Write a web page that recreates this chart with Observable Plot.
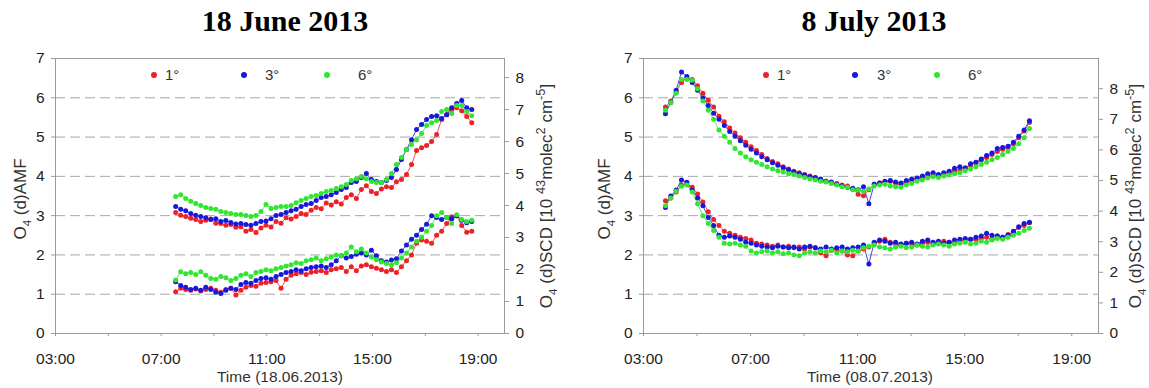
<!DOCTYPE html>
<html>
<head>
<meta charset="utf-8">
<script src="https://cdn.jsdelivr.net/npm/d3@7"></script>
<script src="https://cdn.jsdelivr.net/npm/@observablehq/plot@0.6"></script>
<style>
  body { margin: 0; background: #fff; }
  #wrap { position: relative; width: 1149px; height: 388px; overflow: hidden; font-family: "Liberation Sans", Arial, sans-serif; }
  .panel { position: absolute; top: 0; }
  .title { position: absolute; top: 7px; line-height: 28px; font-family: "Liberation Serif", "Times New Roman", serif; font-weight: bold; font-size: 30px; color: #000; transform: translateX(-50%); white-space: nowrap; }
  .ylab { position: absolute; font-size: 17px; color: #333; white-space: nowrap; line-height: 20px; transform: translate(-50%, -50%) rotate(-90deg); }
  .xlab { position: absolute; font-size: 15.5px; color: #333; white-space: nowrap; line-height: 18px; transform: translate(-50%, -50%); }
  .ylab sub { font-size: 0.68em; }
  .ylab sup { font-size: 0.75em; }
  .leg { position: absolute; font-size: 15px; color: #333; line-height: 16px; transform: translateY(-50%); }
  .legdot { position: absolute; width: 6px; height: 6px; border-radius: 50%; transform: translate(-50%, -50%); }
</style>
</head>
<body>
<div id="wrap"></div>
<script>
// ---------- data ----------
const angles = ["1°", "3°", "6°"];
const colors = ["#ec2228", "#1818dc", "#30e630"];
const xTicks = [3, 5, 7, 9, 11, 13, 15, 17, 19];
const xLabelTicks = [3, 7, 11, 15, 19];
const yLeftTicks = [0, 1, 2, 3, 4, 5, 6, 7];
const yRightTicks = [0, 1, 2, 3, 4, 5, 6, 7, 8];
const gridLevels = [1, 2, 3, 4, 5, 6];

// 18 June 2013 — time in decimal hours
const juneTimes = [7.55,7.74,7.93,8.12,8.31,8.50,8.69,8.88,9.07,9.26,
  9.45,9.64,9.83,10.02,10.21,10.40,10.59,10.78,10.97,11.16,
  11.35,11.54,11.73,11.92,12.11,12.30,12.49,12.68,12.87,13.06,
  13.25,13.44,13.63,13.82,14.01,14.20,14.39,14.58,14.77,14.96,
  15.15,15.34,15.53,15.72,15.91,16.10,16.29,16.48,16.67,16.86,
  17.05,17.24,17.43,17.62,17.81,18.00,18.19,18.38,18.57,18.76];
// O4 dSCD [10^43 molec^2 cm^-5] (right axis)
const juneScdRed = [3.78,3.70,3.66,3.60,3.56,3.50,3.54,3.58,3.45,3.44,
  3.38,3.41,3.32,3.34,3.20,3.25,3.16,3.30,3.38,3.33,
  3.50,3.45,3.62,3.58,3.66,3.75,3.72,3.85,3.94,3.90,
  4.08,4.02,4.12,4.05,4.25,4.34,4.22,4.50,4.62,4.44,
  4.38,4.52,4.59,4.56,4.74,4.81,4.97,5.28,5.72,5.81,
  5.88,6.00,6.22,6.69,6.84,7.00,7.06,6.96,6.78,6.59];
const juneScdBlue = [3.97,3.88,3.84,3.75,3.70,3.66,3.62,3.56,3.59,3.50,
  3.53,3.47,3.42,3.44,3.41,3.38,3.44,3.50,3.52,3.59,
  3.69,3.72,3.78,3.84,3.88,3.97,4.03,4.06,4.16,4.25,
  4.28,4.34,4.41,4.50,4.56,4.72,4.75,4.88,5.00,4.81,
  4.75,4.72,4.78,4.88,5.13,5.44,5.75,6.06,6.38,6.53,
  6.69,6.78,6.81,6.72,6.84,7.06,7.19,7.28,7.06,7.00];
const juneScdGreen = [4.28,4.34,4.22,4.13,4.06,4.00,3.94,3.91,3.88,3.81,
  3.78,3.75,3.72,3.72,3.69,3.66,3.69,3.81,4.03,3.91,
  3.94,3.97,3.97,4.00,4.09,4.16,4.22,4.28,4.31,4.38,
  4.44,4.47,4.53,4.59,4.66,4.78,4.84,4.91,4.84,4.75,
  4.72,4.72,4.81,5.00,5.28,5.50,5.75,5.91,6.06,6.25,
  6.50,6.59,6.66,6.94,7.00,6.88,7.13,7.13,6.94,6.81];
// O4 dAMF (left axis)
const juneAmfRed = [1.06,1.15,1.12,1.10,1.13,1.08,1.12,1.15,1.10,1.05,
  1.12,1.15,0.98,1.10,1.18,1.22,1.20,1.28,1.30,1.32,
  1.35,1.15,1.38,1.48,1.52,1.55,1.50,1.56,1.58,1.60,
  1.55,1.62,1.65,1.68,1.58,1.70,1.60,1.72,1.75,1.70,
  1.66,1.62,1.58,1.62,1.55,1.70,1.85,2.00,2.30,2.38,
  2.35,2.30,2.50,2.60,2.80,2.97,3.00,2.75,2.58,2.60];
const juneAmfBlue = [1.32,1.22,1.18,1.12,1.15,1.10,1.18,1.12,1.05,1.02,
  1.10,1.15,1.12,1.25,1.30,1.28,1.35,1.40,1.42,1.38,
  1.45,1.50,1.55,1.58,1.62,1.60,1.65,1.68,1.70,1.72,
  1.68,1.75,1.85,1.98,1.92,1.96,2.02,2.05,2.00,2.12,
  1.98,1.85,1.82,1.87,1.90,2.10,2.25,2.40,2.50,2.65,
  2.78,3.00,2.95,2.90,2.95,2.92,3.00,2.88,2.82,2.85];
const juneAmfGreen = [1.36,1.57,1.52,1.55,1.50,1.57,1.48,1.40,1.38,1.45,
  1.42,1.35,1.40,1.48,1.52,1.45,1.55,1.58,1.62,1.60,
  1.65,1.68,1.72,1.75,1.80,1.78,1.85,1.88,1.92,1.85,
  1.90,1.95,2.00,1.98,2.05,2.20,2.08,2.15,2.05,1.95,
  1.88,1.82,1.78,1.75,1.80,1.92,2.05,2.20,2.35,2.45,
  2.60,2.75,3.00,3.08,2.95,2.80,3.02,2.90,2.85,2.88];

// 8 July 2013
const julyTimes = [3.82,4.02,4.22,4.42,4.62,4.82,5.02,5.22,5.42,5.62,
  5.82,6.02,6.22,6.42,6.62,6.82,7.02,7.22,7.42,7.62,
  7.82,8.02,8.22,8.42,8.62,8.82,9.02,9.22,9.42,9.62,
  9.82,10.02,10.22,10.42,10.62,10.82,11.02,11.22,11.42,11.62,
  11.82,12.02,12.22,12.42,12.62,12.82,13.02,13.22,13.42,13.62,
  13.82,14.02,14.22,14.42,14.62,14.82,15.02,15.22,15.42,15.62,
  15.82,16.02,16.22,16.42,16.62,16.82,17.02,17.22,17.42];
const julyScdRed = [7.40,7.60,7.90,8.20,8.35,8.30,8.10,7.85,7.62,7.40,
  7.10,6.92,6.72,6.55,6.40,6.25,6.10,5.98,5.85,5.72,
  5.62,5.55,5.45,5.38,5.30,5.25,5.20,5.15,5.08,5.02,
  4.98,4.92,4.90,4.85,4.82,4.72,4.55,4.50,4.70,4.88,
  4.92,4.95,4.98,4.90,4.88,4.95,5.00,5.05,5.10,5.12,
  5.18,5.15,5.22,5.25,5.30,5.35,5.42,5.50,5.58,5.66,
  5.75,5.85,5.95,6.02,6.08,6.20,6.40,6.62,6.90];
const julyScdBlue = [7.18,7.55,7.95,8.55,8.40,8.20,7.95,7.70,7.45,7.20,
  7.00,6.80,6.60,6.45,6.30,6.15,6.02,5.90,5.78,5.68,
  5.58,5.50,5.42,5.35,5.28,5.22,5.18,5.12,5.10,5.05,
  4.98,4.95,4.88,4.82,4.78,4.75,4.70,4.80,4.24,4.88,
  4.92,4.98,5.00,4.95,4.92,5.00,5.05,5.08,5.15,5.22,
  5.25,5.20,5.25,5.30,5.40,5.45,5.40,5.55,5.60,5.70,
  5.82,5.90,6.05,6.08,6.12,6.25,6.45,6.65,6.95];
const julyScdGreen = [7.30,7.55,7.85,8.30,8.30,8.28,8.00,7.60,7.30,7.00,
  6.65,6.45,6.25,6.05,5.90,5.78,5.68,5.60,5.52,5.45,
  5.38,5.32,5.28,5.22,5.20,5.15,5.10,5.05,5.02,4.98,
  4.95,4.90,4.85,4.80,4.78,4.70,4.68,4.65,4.72,4.82,
  4.85,4.88,4.82,4.80,4.78,4.85,4.90,4.98,5.02,5.08,
  5.12,5.10,5.15,5.18,5.22,5.25,5.32,5.38,5.45,5.52,
  5.60,5.68,5.75,5.85,5.95,6.05,6.20,6.40,6.70];
const julyAmfRed = [3.38,3.45,3.60,3.78,3.80,3.72,3.55,3.35,3.10,2.90,
  2.75,2.60,2.55,2.50,2.45,2.42,2.38,2.30,2.28,2.25,
  2.22,2.25,2.20,2.22,2.18,2.20,2.15,2.20,2.18,2.05,
  1.98,2.12,2.15,2.10,2.00,1.98,2.10,2.15,2.20,2.30,
  2.35,2.40,2.32,2.28,2.25,2.30,2.28,2.25,2.30,2.32,
  2.28,2.30,2.35,2.32,2.30,2.35,2.38,2.40,2.38,2.42,
  2.45,2.40,2.48,2.45,2.52,2.58,2.70,2.75,2.82];
const julyAmfBlue = [3.21,3.50,3.65,3.91,3.85,3.65,3.45,3.25,2.95,2.75,
  2.50,2.45,2.48,2.45,2.40,2.32,2.30,2.25,2.22,2.20,
  2.18,2.22,2.20,2.18,2.20,2.15,2.20,2.22,2.18,2.15,
  2.20,2.15,2.18,2.20,2.15,2.18,2.20,2.25,1.77,2.32,
  2.38,2.35,2.30,2.32,2.28,2.30,2.32,2.28,2.35,2.38,
  2.32,2.35,2.30,2.32,2.38,2.40,2.42,2.40,2.45,2.48,
  2.55,2.50,2.48,2.45,2.50,2.60,2.72,2.80,2.83];
const julyAmfGreen = [3.25,3.45,3.62,3.75,3.78,3.60,3.30,3.00,2.80,2.62,
  2.45,2.30,2.28,2.30,2.25,2.22,2.10,2.05,2.08,2.10,
  2.05,2.08,2.03,2.05,2.00,1.98,2.05,2.08,2.05,2.10,
  2.08,2.12,2.05,2.10,2.08,2.12,2.10,2.18,2.22,2.25,
  2.20,2.18,2.15,2.20,2.22,2.18,2.20,2.25,2.22,2.20,
  2.25,2.28,2.25,2.22,2.28,2.30,2.32,2.28,2.30,2.35,
  2.32,2.38,2.42,2.40,2.45,2.50,2.55,2.62,2.68];

// dSCD units per dAMF unit on the shared vertical scale (right axis)
const juneScdPerAmf = 1.228;
const julyScdPerAmf = 1.284;

// ---------- drawing ----------
function hourLabel(d) {
  return xLabelTicks.includes(d) ? String(d).padStart(2, "0") + ":00" : "";
}

function panel(times, scd, amf, k, cfg) {
  const rows = [];
  angles.forEach((a, i) => {
    times.forEach((t, j) => rows.push({t, v: scd[i][j] / k, angle: a, key: "scd" + a}));
    times.forEach((t, j) => rows.push({t, v: amf[i][j], angle: a, key: "amf" + a}));
  });
  return Plot.plot({
    width: cfg.width,
    height: 388,
    marginLeft: cfg.ml,
    marginRight: cfg.mr,
    marginTop: 58,
    marginBottom: 55,
    style: {fontFamily: "'Liberation Sans', Arial, sans-serif", fontSize: "15px", background: "white", color: "#222"},
    x: {domain: [3, 20]},
    y: {domain: [0, 7]},
    color: {domain: angles, range: colors},
    marks: [
      Plot.ruleY(gridLevels, {stroke: "#a8a8a8", strokeDasharray: "10,5", strokeWidth: 1}),
      Plot.frame({stroke: "#9a9a9a"}),
      Plot.line(rows, {x: "t", y: "v", z: "key", stroke: "angle", strokeWidth: 0.8}),
      Plot.dot(rows, {x: "t", y: "v", fill: "angle", r: 2.5}),
      Plot.axisX(xTicks, {anchor: "bottom", tickSize: 3, tickPadding: 16, tickFormat: hourLabel, stroke: "#9a9a9a", fill: "#222", label: null, fontSize: 15.5}),
      Plot.axisY(yLeftTicks, {anchor: "left", tickSize: 4, tickPadding: 7, stroke: "#9a9a9a", fill: "#222", label: null, fontSize: 15.5}),
      Plot.axisY(yRightTicks.map(v => v / k), {anchor: "right", tickSize: 4, tickPadding: 7, tickFormat: d => Math.round(d * k), stroke: "#9a9a9a", fill: "#222", label: null, fontSize: 15.5})
    ]
  });
}

const wrap = document.getElementById("wrap");

function addPanel(svg, left) {
  const d = document.createElement("div");
  d.className = "panel";
  d.style.left = left + "px";
  d.appendChild(svg);
  wrap.appendChild(d);
}
function addHTML(cls, html, x, y, extra) {
  const d = document.createElement("div");
  d.className = cls;
  d.innerHTML = html;
  d.style.left = x + "px";
  d.style.top = y + "px";
  if (extra) Object.assign(d.style, extra);
  wrap.appendChild(d);
  return d;
}

addPanel(panel(juneTimes, [juneScdRed, juneScdBlue, juneScdGreen], [juneAmfRed, juneAmfBlue, juneAmfGreen], juneScdPerAmf, {width: 575, ml: 55, mr: 71}), 0);
addPanel(panel(julyTimes, [julyScdRed, julyScdBlue, julyScdGreen], [julyAmfRed, julyAmfBlue, julyAmfGreen], julyScdPerAmf, {width: 574, ml: 68, mr: 51}), 575);

// titles
addHTML("title", "18 June 2013", 285, 7);
addHTML("title", "8 July 2013", 874, 7);

// axis titles
const amfLabel = "O<sub>4</sub> (d)AMF";
const scdLabel = "O<sub>4</sub> (d)SCD [10 <sup>43</sup>molec<sup>2</sup> cm<sup>-5</sup>]";
addHTML("ylab", amfLabel, 24, 199);
addHTML("ylab", scdLabel, 547, 196);
addHTML("ylab", amfLabel, 608, 199);
addHTML("ylab", scdLabel, 1136, 196);
addHTML("xlab", "Time (18.06.2013)", 280, 377);
addHTML("xlab", "Time (08.07.2013)", 870, 377);

// legends
const legendPanels = [
  {dots: [154, 244, 327], texts: [165, 265, 358]},
  {dots: [766, 855, 937], texts: [777, 877, 968]}
];
legendPanels.forEach(p => {
  angles.forEach((a, i) => {
    addHTML("legdot", "", p.dots[i], 75, {background: colors[i]});
    addHTML("leg", a, p.texts[i], 75);
  });
});
</script>
</body>
</html>
